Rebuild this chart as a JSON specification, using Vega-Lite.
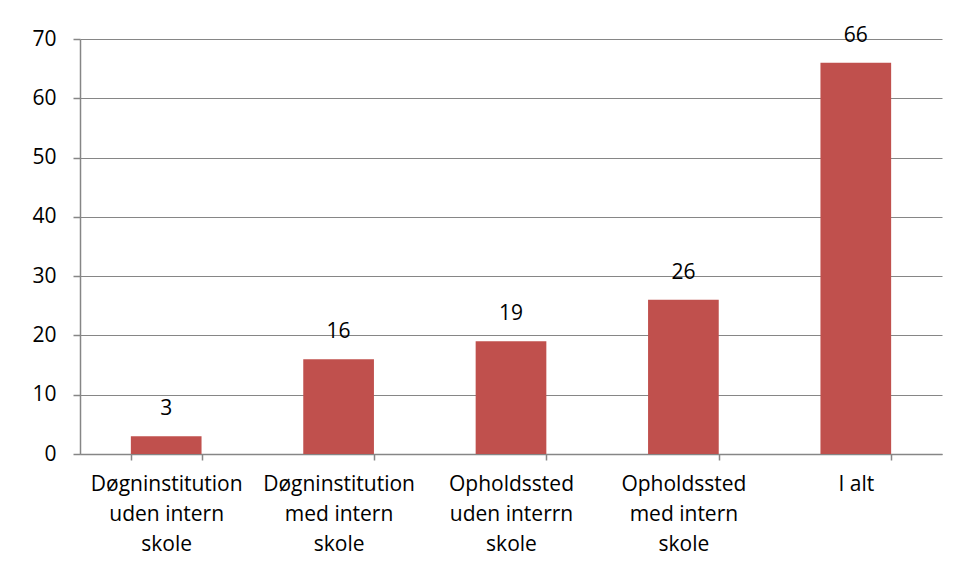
{
  "$schema": "https://vega.github.io/schema/vega-lite/v6.json",
  "width": 862,
  "height": 415,
  "autosize": "none",
  "padding": {"left": 80, "top": 39, "right": 21, "bottom": 126},
  "background": "white",
  "config": {
    "view": {"stroke": null},
    "font": "Open Sans"
  },
  "data": {
    "values": [
      {"kategori": "Døgninstitution|uden intern|skole", "antal": 3},
      {"kategori": "Døgninstitution|med intern|skole", "antal": 16},
      {"kategori": "Opholdssted|uden interrn|skole", "antal": 19},
      {"kategori": "Opholdssted|med intern|skole", "antal": 26},
      {"kategori": "I alt", "antal": 66}
    ]
  },
  "encoding": {
    "x": {
      "field": "kategori",
      "type": "nominal",
      "sort": null,
      "scale": {"paddingInner": 0.59, "paddingOuter": 0.295},
      "axis": {
        "title": null,
        "labelAngle": 0,
        "domain": true,
        "domainColor": "#868686",
        "domainWidth": 1.5,
        "ticks": true,
        "tickColor": "#868686",
        "tickWidth": 1.5,
        "tickBand": "extent",
        "tickSize": 6,
        "labelPadding": 13,
        "labelLineHeight": 30,
        "labelColor": "#000000",
        "labelFontSize": 21,
        "labelFont": "Open Sans",
        "labelExpr": "split(datum.label, '|')",
        "labelBaseline": "top"
      }
    },
    "y": {
      "field": "antal",
      "type": "quantitative",
      "scale": {"domain": [0, 70]},
      "axis": {
        "title": null,
        "domain": true,
        "domainColor": "#868686",
        "domainWidth": 1.5,
        "ticks": true,
        "tickColor": "#868686",
        "tickWidth": 1.5,
        "values": [0, 10, 20, 30, 40, 50, 60, 70],
        "tickSize": 7,
        "labelPadding": 17,
        "labelColor": "#000000",
        "labelFontSize": 21,
        "labelFont": "Open Sans",
        "grid": true,
        "gridColor": "#868686",
        "gridWidth": 1
      }
    }
  },
  "layer": [
    {"mark": {"type": "bar", "color": "#C0504D"}},
    {
      "mark": {"type": "text", "dy": -27, "fontSize": 21, "font": "Open Sans", "color": "#000000", "baseline": "middle"},
      "encoding": {"text": {"field": "antal", "type": "quantitative"}}
    }
  ]
}
